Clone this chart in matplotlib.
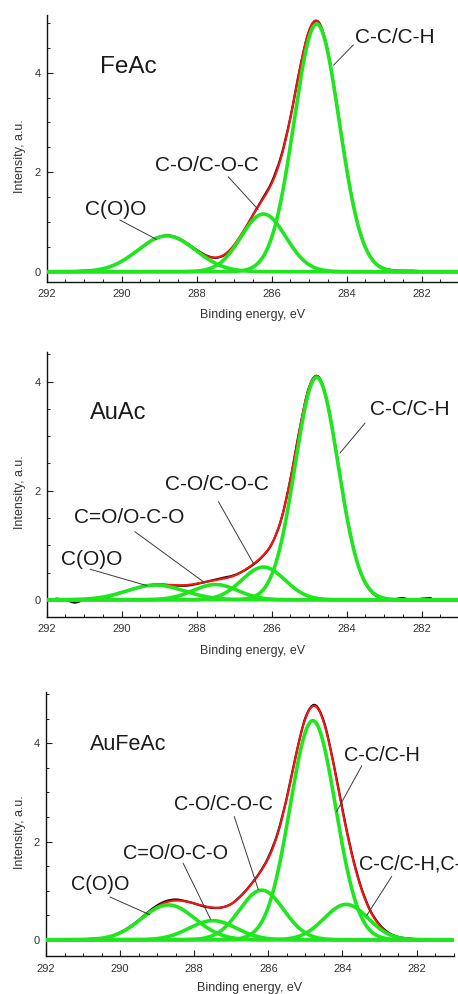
import numpy as np
import matplotlib
matplotlib.use("Agg")
import matplotlib.pyplot as plt
from matplotlib.path import Path
from matplotlib.patches import PathPatch
from matplotlib.ticker import MultipleLocator

plt.rcParams['font.family'] = ['Liberation Sans', 'DejaVu Sans']

# ---------------- data ----------------
samples = ["FeAc", "AuAc", "AuFeAc"]

# fitted components: centre (eV), height (a.u.), FWHM (eV)
feac_labels = ["C(O)O", "C-O/C-O-C", "C-C/C-H"]
feac_centers = [288.8, 286.22, 284.8]
feac_heights = [0.72, 1.16, 4.98]
feac_fwhm = [1.8, 1.4, 1.42]

auac_labels = ["C(O)O", "C=O/O-C-O", "C-O/C-O-C", "C-C/C-H"]
auac_centers = [289.1, 287.5, 286.22, 284.8]
auac_heights = [0.27, 0.28, 0.60, 4.08]
auac_fwhm = [1.8, 1.4, 1.35, 1.35]

aufeac_labels = ["C(O)O", "C=O/O-C-O", "C-O/C-O-C", "C-C/C-H", "C-C/C-H,C-Fe"]
aufeac_centers = [288.7, 287.5, 286.18, 284.8, 283.9]
aufeac_heights = [0.71, 0.39, 1.01, 4.46, 0.72]
aufeac_fwhm = [1.7, 1.5, 1.4, 1.45, 1.4]

# measured spectra, sampled every 0.25 eV from 291.75 down to 281.75 eV
meas_energy = np.arange(291.75, 281.6, -0.25)
feac_meas = [0.01, 0.00, 0.01, 0.02, 0.03, 0.06, 0.12, 0.21, 0.33, 0.47,
             0.61, 0.70, 0.73, 0.68, 0.57, 0.44, 0.33, 0.28, 0.34, 0.52,
             0.80, 1.14, 1.46, 1.80, 2.32, 3.10, 4.07, 4.84, 5.02, 4.43,
             3.31, 2.08, 1.10, 0.50, 0.19, 0.07, 0.03, 0.02, 0.02, 0.01,
             np.nan]
auac_meas = [0.02, 0.00, -0.05, 0.00, 0.02, 0.03, 0.08, 0.13, 0.19, 0.23,
             0.27, 0.28, 0.27, 0.26, 0.26, 0.29, 0.33, 0.37, 0.41, 0.45,
             0.53, 0.64, 0.79, 1.02, 1.46, 2.21, 3.14, 3.90, 4.09, 3.58,
             2.60, 1.56, 0.77, 0.30, 0.09, 0.02, 0.01, 0.03, -0.01, 0.02,
             0.03]
aufeac_meas = [np.nan, np.nan, np.nan, 0.01, 0.02, 0.03, 0.07, 0.15, 0.26, 0.40,
               0.56, 0.70, 0.79, 0.82, 0.79, 0.74, 0.68, 0.65, 0.66, 0.73,
               0.89, 1.10, 1.35, 1.68, 2.17, 2.90, 3.78, 4.52, 4.78, 4.44,
               3.63, 2.66, 1.77, 1.08, 0.60, 0.31, 0.14, 0.06, 0.03, 0.01,
               -0.02]

x_ticks = [292, 290, 288, 286, 284, 282]
y_ticks = [0, 2, 4]

# ---------------- layout / style ----------------
W, H = 458, 994
GREEN = "#1fe61f"
RED = "#ff1010"
LEAD = "#3a3a3a"

panels = [
    dict(name=samples[0], labels=feac_labels, c=feac_centers, h=feac_heights, w=feac_fwhm,
         meas=feac_meas, box=(46.7, 15.0, 458.0, 281.7), xlim=(292, 281.03), ylim=(-0.2, 5.16),
         name_pos=(290.58, 4.11), name_fs=17.5, fs=15,
         text_pos=[(290.98, 1.26), (289.11, 2.13), (283.78, 4.71)],
         leaders=[((290.05, 1.04), (289.07, 0.65)), ((287.16, 1.91), (286.36, 1.25)),
                  ((283.82, 4.56), (284.35, 4.15))],
         xlab_dy=27.0),
    dict(name=samples[1], labels=auac_labels, c=auac_centers, h=auac_heights, w=auac_fwhm,
         meas=auac_meas, box=(46.7, 351.7, 458.0, 616.7), xlim=(292, 281.03), ylim=(-0.31, 4.55),
         name_pos=(290.84, 3.43), name_fs=17, fs=15,
         text_pos=[(291.62, 0.74), (291.27, 1.51), (288.85, 2.11), (283.38, 3.49)],
         leaders=[((290.84, 0.56), (289.33, 0.26)), ((289.65, 1.25), (287.78, 0.31)),
                  ((287.42, 1.80), (286.49, 0.67)), ((283.51, 3.24), (284.18, 2.69))],
         xlab_dy=28.5),
    dict(name=samples[2], labels=aufeac_labels, c=aufeac_centers, h=aufeac_heights, w=aufeac_fwhm,
         meas=aufeac_meas, box=(46.0, 691.7, 454.0, 956.0), xlim=(292, 280.99), ylim=(-0.33, 5.05),
         name_pos=(290.81, 3.98), name_fs=15.5, fs=14.3,
         text_pos=[(291.33, 1.12), (289.93, 1.76), (288.54, 2.76), (283.96, 3.76), (283.55, 1.54)],
         leaders=[((290.27, 0.87), (289.2, 0.51)), ((288.3, 1.56), (287.56, 0.42)),
                  ((286.92, 2.51), (286.27, 1.02)), ((283.48, 3.54), (284.16, 2.61)),
                  ((282.67, 1.29), (283.35, 0.49))],
         xlab_dy=26.5),
]


def gauss(x, c, h, w):
    s = w / 2.3548
    return h * np.exp(-(x - c) ** 2 / (2 * s * s))


def smooth_line(ax, x, y, **kw):
    """Draw a smooth (Catmull-Rom) line through the measured points."""
    x = np.asarray(x, float)
    y = np.asarray(y, float)
    ok = ~np.isnan(y)
    idx = np.where(ok)[0]
    runs = np.split(idx, np.where(np.diff(idx) != 1)[0] + 1)
    for r in runs:
        if len(r) < 2:
            continue
        pts = np.column_stack([x[r], y[r]])
        verts = [pts[0]]
        codes = [Path.MOVETO]
        n = len(pts)
        for i in range(n - 1):
            p0 = pts[i - 1] if i > 0 else pts[i]
            p1 = pts[i]
            p2 = pts[i + 1]
            p3 = pts[i + 2] if i + 2 < n else pts[i + 1]
            c1 = p1 + (p2 - p0) / 6.0
            c2 = p2 - (p3 - p1) / 6.0
            verts += [c1, c2, p2]
            codes += [Path.CURVE4] * 3
        ax.add_patch(PathPatch(Path(verts, codes), fill=False, **kw))


fig = plt.figure(figsize=(W / 100, H / 100), dpi=100)
fig.patch.set_facecolor("white")

for p in panels:
    l, t, r, b = p["box"]
    ax = fig.add_axes([l / W, 1 - b / H, (r - l) / W, (b - t) / H])
    ax.set_xlim(*p["xlim"])
    ax.set_ylim(*p["ylim"])

    xs = np.linspace(292, 281, 1101)
    comps = [gauss(xs, c, h, w) for c, h, w in zip(p["c"], p["h"], p["w"])]
    env = np.sum(comps, axis=0)

    smooth_line(ax, meas_energy, p["meas"], edgecolor="#111111", lw=1.6, zorder=2,
                joinstyle="round", capstyle="round")
    ax.plot(xs, env, color=RED, lw=1.5, zorder=3, solid_capstyle="round")
    for comp in comps:
        ax.plot(xs, comp, color=GREEN, lw=2.6, zorder=4, solid_capstyle="round")

    ax.text(*p["name_pos"], p["name"], fontsize=p["name_fs"], color="#1a1a1a",
            ha="left", va="center", zorder=6)
    for lab, pos, (a, bpt) in zip(p["labels"], p["text_pos"], p["leaders"]):
        ax.text(*pos, lab, fontsize=p["fs"], color="#1a1a1a", ha="left", va="center",
                zorder=6, clip_on=False)
        ax.annotate("", xy=bpt, xytext=a,
                    arrowprops=dict(arrowstyle="-", color=LEAD, lw=0.7,
                                    shrinkA=0, shrinkB=0), zorder=5)

    for s in ("top", "right"):
        ax.spines[s].set_visible(False)
    for s in ("left", "bottom"):
        ax.spines[s].set_linewidth(1.0)
        ax.spines[s].set_color("#111111")
    ax.set_xticks(x_ticks)
    ax.set_yticks(y_ticks)
    ax.xaxis.set_minor_locator(MultipleLocator(0.5))
    ax.yaxis.set_minor_locator(MultipleLocator(0.5))
    ax.tick_params(which="both", direction="in", colors="#222222", labelcolor="#333333",
                   labelsize=8)
    ax.tick_params(which="major", length=4, width=0.8)
    ax.tick_params(which="minor", length=2.5, width=0.7)
    ax.tick_params(axis="x", pad=5.5)
    ax.tick_params(axis="y", pad=4.5)
    ax.set_xlabel("Binding energy, eV", fontsize=9, color="#333333")
    ax.set_ylabel("Intensity, a.u.", fontsize=9, color="#333333")
    ax.xaxis.set_label_coords(0.5, -p["xlab_dy"] / (b - t))
    ax.yaxis.set_label_coords((26 - l) / (r - l), 0.47)
    ax.patch.set_alpha(0)

fig.savefig("out.png", dpi=100)
